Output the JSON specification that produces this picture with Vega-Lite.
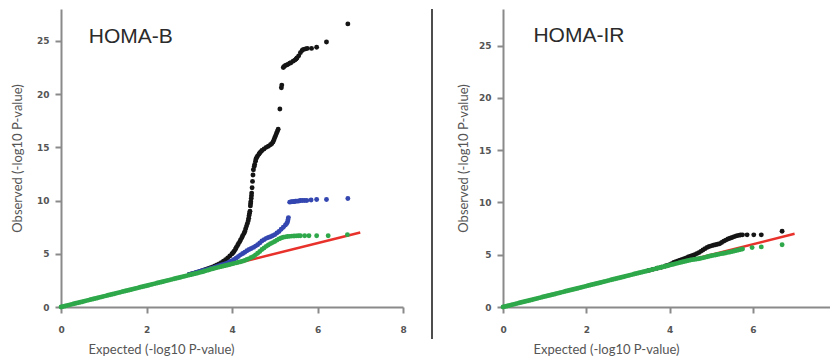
{
  "$schema": "https://vega.github.io/schema/vega-lite/v6.json",
  "padding": {"left": 11, "top": 9, "right": 0, "bottom": 0},
  "spacing": 24,
  "datasets": {
    "reference": [{"expected": 0, "observed": 0}, {"expected": 7, "observed": 7}],
    "homaB": [
      {"series":"Model 1","expected":3.0,"observed":3.05},{"series":"Model 1","expected":3.05,"observed":3.1},{"series":"Model 1","expected":3.1,"observed":3.16},{"series":"Model 1","expected":3.15,"observed":3.22},{"series":"Model 1","expected":3.2,"observed":3.28},{"series":"Model 1","expected":3.25,"observed":3.34},{"series":"Model 1","expected":3.3,"observed":3.41},{"series":"Model 1","expected":3.35,"observed":3.48},{"series":"Model 1","expected":3.4,"observed":3.55},{"series":"Model 1","expected":3.45,"observed":3.62},{"series":"Model 1","expected":3.5,"observed":3.7},{"series":"Model 1","expected":3.55,"observed":3.77},{"series":"Model 1","expected":3.6,"observed":3.85},{"series":"Model 1","expected":3.65,"observed":3.95},{"series":"Model 1","expected":3.7,"observed":4.05},{"series":"Model 1","expected":3.75,"observed":4.17},{"series":"Model 1","expected":3.8,"observed":4.3},{"series":"Model 1","expected":3.85,"observed":4.45},{"series":"Model 1","expected":3.9,"observed":4.6},{"series":"Model 1","expected":3.95,"observed":4.8},{"series":"Model 1","expected":4.0,"observed":5.0},{"series":"Model 1","expected":4.03,"observed":5.12},{"series":"Model 1","expected":4.05,"observed":5.25},{"series":"Model 1","expected":4.08,"observed":5.42},{"series":"Model 1","expected":4.1,"observed":5.6},{"series":"Model 1","expected":4.13,"observed":5.78},{"series":"Model 1","expected":4.15,"observed":5.95},{"series":"Model 1","expected":4.18,"observed":6.12},{"series":"Model 1","expected":4.2,"observed":6.3},{"series":"Model 1","expected":4.23,"observed":6.5},{"series":"Model 1","expected":4.25,"observed":6.7},{"series":"Model 1","expected":4.28,"observed":6.9},{"series":"Model 1","expected":4.3,"observed":7.1},{"series":"Model 1","expected":4.32,"observed":7.35},{"series":"Model 1","expected":4.34,"observed":7.6},{"series":"Model 1","expected":4.36,"observed":7.85},{"series":"Model 1","expected":4.38,"observed":8.1},{"series":"Model 1","expected":4.39,"observed":8.35},{"series":"Model 1","expected":4.4,"observed":8.6},{"series":"Model 1","expected":4.41,"observed":8.8},{"series":"Model 1","expected":4.42,"observed":9.0},{"series":"Model 1","expected":4.43,"observed":9.5},{"series":"Model 1","expected":4.435,"observed":9.7},{"series":"Model 1","expected":4.44,"observed":9.9},{"series":"Model 1","expected":4.45,"observed":10.2},{"series":"Model 1","expected":4.455,"observed":10.45},{"series":"Model 1","expected":4.46,"observed":10.7},{"series":"Model 1","expected":4.47,"observed":11.2},{"series":"Model 1","expected":4.48,"observed":11.8},{"series":"Model 1","expected":4.49,"observed":12.4},{"series":"Model 1","expected":4.5,"observed":12.9},{"series":"Model 1","expected":4.52,"observed":13.2},{"series":"Model 1","expected":4.53,"observed":13.4},{"series":"Model 1","expected":4.55,"observed":13.7},{"series":"Model 1","expected":4.56,"observed":13.9},{"series":"Model 1","expected":4.58,"observed":14.05},{"series":"Model 1","expected":4.6,"observed":14.2},{"series":"Model 1","expected":4.63,"observed":14.35},{"series":"Model 1","expected":4.65,"observed":14.5},{"series":"Model 1","expected":4.68,"observed":14.6},{"series":"Model 1","expected":4.7,"observed":14.7},{"series":"Model 1","expected":4.75,"observed":14.85},{"series":"Model 1","expected":4.8,"observed":15.0},{"series":"Model 1","expected":4.85,"observed":15.1},{"series":"Model 1","expected":4.9,"observed":15.25},{"series":"Model 1","expected":4.93,"observed":15.35},{"series":"Model 1","expected":4.96,"observed":15.5},{"series":"Model 1","expected":4.98,"observed":15.7},{"series":"Model 1","expected":5.0,"observed":15.9},{"series":"Model 1","expected":5.02,"observed":16.1},{"series":"Model 1","expected":5.04,"observed":16.3},{"series":"Model 1","expected":5.06,"observed":16.5},{"series":"Model 1","expected":5.08,"observed":16.7},{"series":"Model 1","expected":5.12,"observed":18.6},{"series":"Model 1","expected":5.155,"observed":20.6},{"series":"Model 1","expected":5.165,"observed":20.85},{"series":"Model 1","expected":5.2,"observed":22.5},{"series":"Model 1","expected":5.22,"observed":22.6},{"series":"Model 1","expected":5.25,"observed":22.7},{"series":"Model 1","expected":5.28,"observed":22.75},{"series":"Model 1","expected":5.31,"observed":22.8},{"series":"Model 1","expected":5.35,"observed":22.9},{"series":"Model 1","expected":5.38,"observed":22.95},{"series":"Model 1","expected":5.43,"observed":23.1},{"series":"Model 1","expected":5.47,"observed":23.2},{"series":"Model 1","expected":5.5,"observed":23.3},{"series":"Model 1","expected":5.52,"observed":23.4},{"series":"Model 1","expected":5.56,"observed":23.6},{"series":"Model 1","expected":5.6,"observed":23.9},{"series":"Model 1","expected":5.64,"observed":24.1},{"series":"Model 1","expected":5.67,"observed":24.2},{"series":"Model 1","expected":5.72,"observed":24.25},{"series":"Model 1","expected":5.76,"observed":24.3},{"series":"Model 1","expected":5.86,"observed":24.3},{"series":"Model 1","expected":5.98,"observed":24.4},{"series":"Model 1","expected":6.21,"observed":24.9},{"series":"Model 1","expected":6.71,"observed":26.6},
      {"series":"Model 2","expected":3.0,"observed":3.05},{"series":"Model 2","expected":3.05,"observed":3.1},{"series":"Model 2","expected":3.1,"observed":3.15},{"series":"Model 2","expected":3.15,"observed":3.22},{"series":"Model 2","expected":3.2,"observed":3.3},{"series":"Model 2","expected":3.25,"observed":3.35},{"series":"Model 2","expected":3.3,"observed":3.4},{"series":"Model 2","expected":3.35,"observed":3.45},{"series":"Model 2","expected":3.4,"observed":3.5},{"series":"Model 2","expected":3.45,"observed":3.56},{"series":"Model 2","expected":3.5,"observed":3.62},{"series":"Model 2","expected":3.55,"observed":3.68},{"series":"Model 2","expected":3.6,"observed":3.75},{"series":"Model 2","expected":3.65,"observed":3.82},{"series":"Model 2","expected":3.7,"observed":3.88},{"series":"Model 2","expected":3.75,"observed":3.94},{"series":"Model 2","expected":3.8,"observed":4.0},{"series":"Model 2","expected":3.85,"observed":4.07},{"series":"Model 2","expected":3.9,"observed":4.15},{"series":"Model 2","expected":3.95,"observed":4.25},{"series":"Model 2","expected":4.0,"observed":4.35},{"series":"Model 2","expected":4.05,"observed":4.47},{"series":"Model 2","expected":4.1,"observed":4.6},{"series":"Model 2","expected":4.15,"observed":4.75},{"series":"Model 2","expected":4.2,"observed":4.9},{"series":"Model 2","expected":4.25,"observed":5.02},{"series":"Model 2","expected":4.3,"observed":5.15},{"series":"Model 2","expected":4.35,"observed":5.28},{"series":"Model 2","expected":4.4,"observed":5.4},{"series":"Model 2","expected":4.45,"observed":5.5},{"series":"Model 2","expected":4.5,"observed":5.6},{"series":"Model 2","expected":4.55,"observed":5.72},{"series":"Model 2","expected":4.6,"observed":5.85},{"series":"Model 2","expected":4.65,"observed":6.02},{"series":"Model 2","expected":4.7,"observed":6.2},{"series":"Model 2","expected":4.75,"observed":6.33},{"series":"Model 2","expected":4.8,"observed":6.45},{"series":"Model 2","expected":4.85,"observed":6.53},{"series":"Model 2","expected":4.9,"observed":6.6},{"series":"Model 2","expected":4.95,"observed":6.7},{"series":"Model 2","expected":5.0,"observed":6.8},{"series":"Model 2","expected":5.05,"observed":6.95},{"series":"Model 2","expected":5.1,"observed":7.1},{"series":"Model 2","expected":5.15,"observed":7.3},{"series":"Model 2","expected":5.2,"observed":7.5},{"series":"Model 2","expected":5.25,"observed":7.7},{"series":"Model 2","expected":5.28,"observed":7.85},{"series":"Model 2","expected":5.3,"observed":8.0},{"series":"Model 2","expected":5.31,"observed":8.2},{"series":"Model 2","expected":5.32,"observed":8.4},{"series":"Model 2","expected":5.35,"observed":9.85},{"series":"Model 2","expected":5.38,"observed":9.88},{"series":"Model 2","expected":5.4,"observed":9.9},{"series":"Model 2","expected":5.43,"observed":9.9},{"series":"Model 2","expected":5.45,"observed":9.9},{"series":"Model 2","expected":5.48,"observed":9.93},{"series":"Model 2","expected":5.5,"observed":9.95},{"series":"Model 2","expected":5.53,"observed":9.95},{"series":"Model 2","expected":5.55,"observed":9.95},{"series":"Model 2","expected":5.58,"observed":9.97},{"series":"Model 2","expected":5.6,"observed":10.0},{"series":"Model 2","expected":5.65,"observed":10.0},{"series":"Model 2","expected":5.7,"observed":10.0},{"series":"Model 2","expected":5.75,"observed":10.0},{"series":"Model 2","expected":5.85,"observed":10.05},{"series":"Model 2","expected":5.98,"observed":10.1},{"series":"Model 2","expected":6.21,"observed":10.1},{"series":"Model 2","expected":6.71,"observed":10.2},
      {"series":"Model 3","expected":0.0,"observed":0.0},{"series":"Model 3","expected":0.05,"observed":0.05},{"series":"Model 3","expected":0.1,"observed":0.1},{"series":"Model 3","expected":0.15,"observed":0.15},{"series":"Model 3","expected":0.2,"observed":0.2},{"series":"Model 3","expected":0.25,"observed":0.25},{"series":"Model 3","expected":0.3,"observed":0.3},{"series":"Model 3","expected":0.35,"observed":0.35},{"series":"Model 3","expected":0.4,"observed":0.4},{"series":"Model 3","expected":0.45,"observed":0.45},{"series":"Model 3","expected":0.5,"observed":0.5},{"series":"Model 3","expected":0.55,"observed":0.55},{"series":"Model 3","expected":0.6,"observed":0.6},{"series":"Model 3","expected":0.65,"observed":0.65},{"series":"Model 3","expected":0.7,"observed":0.7},{"series":"Model 3","expected":0.75,"observed":0.75},{"series":"Model 3","expected":0.8,"observed":0.8},{"series":"Model 3","expected":0.85,"observed":0.85},{"series":"Model 3","expected":0.9,"observed":0.9},{"series":"Model 3","expected":0.95,"observed":0.95},{"series":"Model 3","expected":1.0,"observed":1.0},{"series":"Model 3","expected":1.05,"observed":1.05},{"series":"Model 3","expected":1.1,"observed":1.1},{"series":"Model 3","expected":1.15,"observed":1.15},{"series":"Model 3","expected":1.2,"observed":1.2},{"series":"Model 3","expected":1.25,"observed":1.25},{"series":"Model 3","expected":1.3,"observed":1.3},{"series":"Model 3","expected":1.35,"observed":1.35},{"series":"Model 3","expected":1.4,"observed":1.4},{"series":"Model 3","expected":1.45,"observed":1.45},{"series":"Model 3","expected":1.5,"observed":1.5},{"series":"Model 3","expected":1.55,"observed":1.55},{"series":"Model 3","expected":1.6,"observed":1.6},{"series":"Model 3","expected":1.65,"observed":1.65},{"series":"Model 3","expected":1.7,"observed":1.7},{"series":"Model 3","expected":1.75,"observed":1.75},{"series":"Model 3","expected":1.8,"observed":1.8},{"series":"Model 3","expected":1.85,"observed":1.85},{"series":"Model 3","expected":1.9,"observed":1.9},{"series":"Model 3","expected":1.95,"observed":1.95},{"series":"Model 3","expected":2.0,"observed":2.0},{"series":"Model 3","expected":2.05,"observed":2.05},{"series":"Model 3","expected":2.1,"observed":2.1},{"series":"Model 3","expected":2.15,"observed":2.15},{"series":"Model 3","expected":2.2,"observed":2.2},{"series":"Model 3","expected":2.25,"observed":2.25},{"series":"Model 3","expected":2.3,"observed":2.3},{"series":"Model 3","expected":2.35,"observed":2.35},{"series":"Model 3","expected":2.4,"observed":2.4},{"series":"Model 3","expected":2.45,"observed":2.45},{"series":"Model 3","expected":2.5,"observed":2.5},{"series":"Model 3","expected":2.55,"observed":2.55},{"series":"Model 3","expected":2.6,"observed":2.6},{"series":"Model 3","expected":2.65,"observed":2.65},{"series":"Model 3","expected":2.7,"observed":2.7},{"series":"Model 3","expected":2.75,"observed":2.75},{"series":"Model 3","expected":2.8,"observed":2.8},{"series":"Model 3","expected":2.85,"observed":2.85},{"series":"Model 3","expected":2.9,"observed":2.9},{"series":"Model 3","expected":2.95,"observed":2.95},{"series":"Model 3","expected":3.0,"observed":3.0},{"series":"Model 3","expected":3.05,"observed":3.05},{"series":"Model 3","expected":3.1,"observed":3.1},{"series":"Model 3","expected":3.15,"observed":3.15},{"series":"Model 3","expected":3.2,"observed":3.2},{"series":"Model 3","expected":3.25,"observed":3.25},{"series":"Model 3","expected":3.3,"observed":3.3},{"series":"Model 3","expected":3.35,"observed":3.36},{"series":"Model 3","expected":3.4,"observed":3.42},{"series":"Model 3","expected":3.45,"observed":3.48},{"series":"Model 3","expected":3.5,"observed":3.55},{"series":"Model 3","expected":3.55,"observed":3.6},{"series":"Model 3","expected":3.6,"observed":3.65},{"series":"Model 3","expected":3.65,"observed":3.7},{"series":"Model 3","expected":3.7,"observed":3.75},{"series":"Model 3","expected":3.75,"observed":3.8},{"series":"Model 3","expected":3.8,"observed":3.85},{"series":"Model 3","expected":3.85,"observed":3.9},{"series":"Model 3","expected":3.9,"observed":3.95},{"series":"Model 3","expected":3.95,"observed":4.0},{"series":"Model 3","expected":4.0,"observed":4.05},{"series":"Model 3","expected":4.05,"observed":4.1},{"series":"Model 3","expected":4.1,"observed":4.15},{"series":"Model 3","expected":4.15,"observed":4.2},{"series":"Model 3","expected":4.2,"observed":4.25},{"series":"Model 3","expected":4.25,"observed":4.31},{"series":"Model 3","expected":4.3,"observed":4.38},{"series":"Model 3","expected":4.35,"observed":4.46},{"series":"Model 3","expected":4.4,"observed":4.55},{"series":"Model 3","expected":4.45,"observed":4.65},{"series":"Model 3","expected":4.5,"observed":4.75},{"series":"Model 3","expected":4.55,"observed":4.9},{"series":"Model 3","expected":4.6,"observed":5.05},{"series":"Model 3","expected":4.65,"observed":5.22},{"series":"Model 3","expected":4.7,"observed":5.4},{"series":"Model 3","expected":4.75,"observed":5.55},{"series":"Model 3","expected":4.8,"observed":5.7},{"series":"Model 3","expected":4.85,"observed":5.83},{"series":"Model 3","expected":4.9,"observed":5.95},{"series":"Model 3","expected":4.95,"observed":6.05},{"series":"Model 3","expected":5.0,"observed":6.15},{"series":"Model 3","expected":5.05,"observed":6.28},{"series":"Model 3","expected":5.1,"observed":6.4},{"series":"Model 3","expected":5.15,"observed":6.48},{"series":"Model 3","expected":5.2,"observed":6.55},{"series":"Model 3","expected":5.25,"observed":6.59},{"series":"Model 3","expected":5.3,"observed":6.62},{"series":"Model 3","expected":5.35,"observed":6.64},{"series":"Model 3","expected":5.4,"observed":6.66},{"series":"Model 3","expected":5.45,"observed":6.67},{"series":"Model 3","expected":5.5,"observed":6.68},{"series":"Model 3","expected":5.55,"observed":6.69},{"series":"Model 3","expected":5.6,"observed":6.7},{"series":"Model 3","expected":5.7,"observed":6.7},{"series":"Model 3","expected":5.8,"observed":6.7},{"series":"Model 3","expected":5.98,"observed":6.7},{"series":"Model 3","expected":6.25,"observed":6.7},{"series":"Model 3","expected":6.7,"observed":6.8}
    ],
    "homaIR": [
      {"series":"Model 1","expected":3.5,"observed":3.5},{"series":"Model 1","expected":3.6,"observed":3.6},{"series":"Model 1","expected":3.7,"observed":3.7},{"series":"Model 1","expected":3.8,"observed":3.8},{"series":"Model 1","expected":3.9,"observed":3.92},{"series":"Model 1","expected":3.95,"observed":3.98},{"series":"Model 1","expected":4.0,"observed":4.05},{"series":"Model 1","expected":4.05,"observed":4.15},{"series":"Model 1","expected":4.1,"observed":4.25},{"series":"Model 1","expected":4.15,"observed":4.33},{"series":"Model 1","expected":4.2,"observed":4.4},{"series":"Model 1","expected":4.25,"observed":4.48},{"series":"Model 1","expected":4.3,"observed":4.55},{"series":"Model 1","expected":4.35,"observed":4.62},{"series":"Model 1","expected":4.4,"observed":4.7},{"series":"Model 1","expected":4.45,"observed":4.78},{"series":"Model 1","expected":4.5,"observed":4.85},{"series":"Model 1","expected":4.55,"observed":4.92},{"series":"Model 1","expected":4.6,"observed":5.0},{"series":"Model 1","expected":4.65,"observed":5.1},{"series":"Model 1","expected":4.7,"observed":5.2},{"series":"Model 1","expected":4.75,"observed":5.32},{"series":"Model 1","expected":4.8,"observed":5.45},{"series":"Model 1","expected":4.85,"observed":5.58},{"series":"Model 1","expected":4.9,"observed":5.7},{"series":"Model 1","expected":4.95,"observed":5.78},{"series":"Model 1","expected":5.0,"observed":5.85},{"series":"Model 1","expected":5.05,"observed":5.9},{"series":"Model 1","expected":5.1,"observed":5.95},{"series":"Model 1","expected":5.15,"observed":6.0},{"series":"Model 1","expected":5.2,"observed":6.05},{"series":"Model 1","expected":5.25,"observed":6.17},{"series":"Model 1","expected":5.3,"observed":6.3},{"series":"Model 1","expected":5.35,"observed":6.4},{"series":"Model 1","expected":5.4,"observed":6.5},{"series":"Model 1","expected":5.45,"observed":6.58},{"series":"Model 1","expected":5.5,"observed":6.65},{"series":"Model 1","expected":5.55,"observed":6.73},{"series":"Model 1","expected":5.6,"observed":6.8},{"series":"Model 1","expected":5.65,"observed":6.85},{"series":"Model 1","expected":5.7,"observed":6.88},{"series":"Model 1","expected":5.75,"observed":6.9},{"series":"Model 1","expected":5.86,"observed":6.9},{"series":"Model 1","expected":6.02,"observed":6.9},{"series":"Model 1","expected":6.2,"observed":6.9},{"series":"Model 1","expected":6.7,"observed":7.24},
      {"series":"Model 3","expected":0.0,"observed":0.0},{"series":"Model 3","expected":0.05,"observed":0.05},{"series":"Model 3","expected":0.1,"observed":0.1},{"series":"Model 3","expected":0.15,"observed":0.15},{"series":"Model 3","expected":0.2,"observed":0.2},{"series":"Model 3","expected":0.25,"observed":0.25},{"series":"Model 3","expected":0.3,"observed":0.3},{"series":"Model 3","expected":0.35,"observed":0.35},{"series":"Model 3","expected":0.4,"observed":0.4},{"series":"Model 3","expected":0.45,"observed":0.45},{"series":"Model 3","expected":0.5,"observed":0.5},{"series":"Model 3","expected":0.55,"observed":0.55},{"series":"Model 3","expected":0.6,"observed":0.6},{"series":"Model 3","expected":0.65,"observed":0.65},{"series":"Model 3","expected":0.7,"observed":0.7},{"series":"Model 3","expected":0.75,"observed":0.75},{"series":"Model 3","expected":0.8,"observed":0.8},{"series":"Model 3","expected":0.85,"observed":0.85},{"series":"Model 3","expected":0.9,"observed":0.9},{"series":"Model 3","expected":0.95,"observed":0.95},{"series":"Model 3","expected":1.0,"observed":1.0},{"series":"Model 3","expected":1.05,"observed":1.05},{"series":"Model 3","expected":1.1,"observed":1.1},{"series":"Model 3","expected":1.15,"observed":1.15},{"series":"Model 3","expected":1.2,"observed":1.2},{"series":"Model 3","expected":1.25,"observed":1.25},{"series":"Model 3","expected":1.3,"observed":1.3},{"series":"Model 3","expected":1.35,"observed":1.35},{"series":"Model 3","expected":1.4,"observed":1.4},{"series":"Model 3","expected":1.45,"observed":1.45},{"series":"Model 3","expected":1.5,"observed":1.5},{"series":"Model 3","expected":1.55,"observed":1.55},{"series":"Model 3","expected":1.6,"observed":1.6},{"series":"Model 3","expected":1.65,"observed":1.65},{"series":"Model 3","expected":1.7,"observed":1.7},{"series":"Model 3","expected":1.75,"observed":1.75},{"series":"Model 3","expected":1.8,"observed":1.8},{"series":"Model 3","expected":1.85,"observed":1.85},{"series":"Model 3","expected":1.9,"observed":1.9},{"series":"Model 3","expected":1.95,"observed":1.95},{"series":"Model 3","expected":2.0,"observed":2.0},{"series":"Model 3","expected":2.05,"observed":2.05},{"series":"Model 3","expected":2.1,"observed":2.1},{"series":"Model 3","expected":2.15,"observed":2.15},{"series":"Model 3","expected":2.2,"observed":2.2},{"series":"Model 3","expected":2.25,"observed":2.25},{"series":"Model 3","expected":2.3,"observed":2.3},{"series":"Model 3","expected":2.35,"observed":2.35},{"series":"Model 3","expected":2.4,"observed":2.4},{"series":"Model 3","expected":2.45,"observed":2.45},{"series":"Model 3","expected":2.5,"observed":2.5},{"series":"Model 3","expected":2.55,"observed":2.55},{"series":"Model 3","expected":2.6,"observed":2.6},{"series":"Model 3","expected":2.65,"observed":2.65},{"series":"Model 3","expected":2.7,"observed":2.7},{"series":"Model 3","expected":2.75,"observed":2.75},{"series":"Model 3","expected":2.8,"observed":2.8},{"series":"Model 3","expected":2.85,"observed":2.85},{"series":"Model 3","expected":2.9,"observed":2.9},{"series":"Model 3","expected":2.95,"observed":2.95},{"series":"Model 3","expected":3.0,"observed":3.0},{"series":"Model 3","expected":3.05,"observed":3.05},{"series":"Model 3","expected":3.1,"observed":3.1},{"series":"Model 3","expected":3.15,"observed":3.15},{"series":"Model 3","expected":3.2,"observed":3.2},{"series":"Model 3","expected":3.25,"observed":3.25},{"series":"Model 3","expected":3.3,"observed":3.3},{"series":"Model 3","expected":3.35,"observed":3.35},{"series":"Model 3","expected":3.4,"observed":3.4},{"series":"Model 3","expected":3.45,"observed":3.45},{"series":"Model 3","expected":3.5,"observed":3.5},{"series":"Model 3","expected":3.55,"observed":3.55},{"series":"Model 3","expected":3.6,"observed":3.6},{"series":"Model 3","expected":3.65,"observed":3.65},{"series":"Model 3","expected":3.7,"observed":3.7},{"series":"Model 3","expected":3.75,"observed":3.75},{"series":"Model 3","expected":3.8,"observed":3.8},{"series":"Model 3","expected":3.85,"observed":3.85},{"series":"Model 3","expected":3.9,"observed":3.9},{"series":"Model 3","expected":3.95,"observed":3.95},{"series":"Model 3","expected":4.0,"observed":4.0},{"series":"Model 3","expected":4.05,"observed":4.05},{"series":"Model 3","expected":4.1,"observed":4.1},{"series":"Model 3","expected":4.15,"observed":4.15},{"series":"Model 3","expected":4.2,"observed":4.2},{"series":"Model 3","expected":4.25,"observed":4.25},{"series":"Model 3","expected":4.3,"observed":4.3},{"series":"Model 3","expected":4.35,"observed":4.35},{"series":"Model 3","expected":4.4,"observed":4.4},{"series":"Model 3","expected":4.45,"observed":4.45},{"series":"Model 3","expected":4.5,"observed":4.5},{"series":"Model 3","expected":4.55,"observed":4.53},{"series":"Model 3","expected":4.6,"observed":4.55},{"series":"Model 3","expected":4.65,"observed":4.59},{"series":"Model 3","expected":4.7,"observed":4.62},{"series":"Model 3","expected":4.75,"observed":4.66},{"series":"Model 3","expected":4.8,"observed":4.7},{"series":"Model 3","expected":4.85,"observed":4.75},{"series":"Model 3","expected":4.9,"observed":4.8},{"series":"Model 3","expected":4.95,"observed":4.85},{"series":"Model 3","expected":5.0,"observed":4.9},{"series":"Model 3","expected":5.05,"observed":4.94},{"series":"Model 3","expected":5.1,"observed":4.98},{"series":"Model 3","expected":5.15,"observed":5.02},{"series":"Model 3","expected":5.2,"observed":5.06},{"series":"Model 3","expected":5.25,"observed":5.1},{"series":"Model 3","expected":5.3,"observed":5.14},{"series":"Model 3","expected":5.35,"observed":5.18},{"series":"Model 3","expected":5.4,"observed":5.22},{"series":"Model 3","expected":5.45,"observed":5.26},{"series":"Model 3","expected":5.5,"observed":5.3},{"series":"Model 3","expected":5.55,"observed":5.35},{"series":"Model 3","expected":5.6,"observed":5.4},{"series":"Model 3","expected":5.65,"observed":5.45},{"series":"Model 3","expected":5.7,"observed":5.5},{"series":"Model 3","expected":5.75,"observed":5.55},{"series":"Model 3","expected":5.98,"observed":5.68},{"series":"Model 3","expected":6.2,"observed":5.75},{"series":"Model 3","expected":6.7,"observed":5.95}
    ]
  },
  "hconcat": [
    {
      "width": 342,
      "height": 298,
      "layer": [
        {
          "data": {"name": "reference"},
          "mark": {"type": "line", "color": "#e8312a", "strokeWidth": 2.5},
          "encoding": {
            "x": {"field": "expected", "type": "quantitative", "scale": {"domain": [0, 8], "nice": false}, "axis": {"values": [0, 2, 4, 6, 8], "title": "Expected (-log10 P-value)", "titleX": 27, "titleAlign": "left"}},
            "y": {"field": "observed", "type": "quantitative", "scale": {"domain": [0, 28], "nice": false}, "axis": {"values": [0, 5, 10, 15, 20, 25], "title": "Observed (-log10 P-value)", "titlePadding": 12}}
          }
        },
        {
          "data": {"name": "homaB"},
          "mark": {"type": "circle", "size": 24, "opacity": 1},
          "encoding": {
            "x": {"field": "expected", "type": "quantitative"},
            "y": {"field": "observed", "type": "quantitative"},
            "color": {"field": "series", "type": "nominal", "scale": {"domain": ["Model 1", "Model 2", "Model 3"], "range": ["#151515", "#3446b0", "#2ea84a"]}, "legend": null}
          }
        },
        {
          "data": {"values": [{"label": "HOMA-B"}]},
          "mark": {"type": "text", "align": "left", "baseline": "alphabetic", "font": "Liberation Sans", "fontSize": 21, "color": "#2b2b2b"},
          "encoding": {"x": {"datum": 0.65}, "y": {"datum": 24.8}, "text": {"field": "label"}}
        }
      ]
    },
    {
      "width": 2,
      "height": 330,
      "view": {"fill": "#4d4d4d", "stroke": null},
      "data": {"values": [{"label": ""}]},
      "mark": {"type": "text"},
      "encoding": {"text": {"field": "label"}}
    },
    {
      "width": 327,
      "height": 298,
      "layer": [
        {
          "data": {"name": "reference"},
          "mark": {"type": "line", "color": "#e8312a", "strokeWidth": 2.5},
          "encoding": {
            "x": {"field": "expected", "type": "quantitative", "scale": {"domain": [0, 7.85], "nice": false}, "axis": {"values": [0, 2, 4, 6], "title": "Expected (-log10 P-value)", "titleX": 30, "titleAlign": "left"}},
            "y": {"field": "observed", "type": "quantitative", "scale": {"domain": [0, 28.5], "nice": false}, "axis": {"values": [0, 5, 10, 15, 20, 25], "title": "Observed (-log10 P-value)", "titlePadding": 8}}
          }
        },
        {
          "data": {"name": "homaIR"},
          "mark": {"type": "circle", "size": 24, "opacity": 1},
          "encoding": {
            "x": {"field": "expected", "type": "quantitative"},
            "y": {"field": "observed", "type": "quantitative"},
            "color": {"field": "series", "type": "nominal", "scale": {"domain": ["Model 1", "Model 2", "Model 3"], "range": ["#151515", "#3446b0", "#2ea84a"]}, "legend": null}
          }
        },
        {
          "data": {"values": [{"label": "HOMA-IR"}]},
          "mark": {"type": "text", "align": "left", "baseline": "alphabetic", "font": "Liberation Sans", "fontSize": 21, "color": "#2b2b2b"},
          "encoding": {"x": {"datum": 0.73}, "y": {"datum": 25.3}, "text": {"field": "label"}}
        }
      ]
    }
  ],
  "config": {
    "view": {"stroke": null},
    "axis": {
      "grid": false,
      "domainColor": "#8a8a8a",
      "domainWidth": 2,
      "tickColor": "#8a8a8a",
      "tickWidth": 2,
      "tickSize": 6,
      "labelFont": "DejaVu Sans",
      "labelFontWeight": "bold",
      "labelFontSize": 9,
      "labelColor": "#555555",
      "labelFlush": false,
      "labelOverlap": false,
      "titleFont": "Lato",
      "titleFontSize": 13,
      "titleFontWeight": "normal",
      "titleColor": "#555555"
    },
    "axisX": {"labelPadding": 12, "titlePadding": 9},
    "axisY": {"labelPadding": 6}
  }
}
